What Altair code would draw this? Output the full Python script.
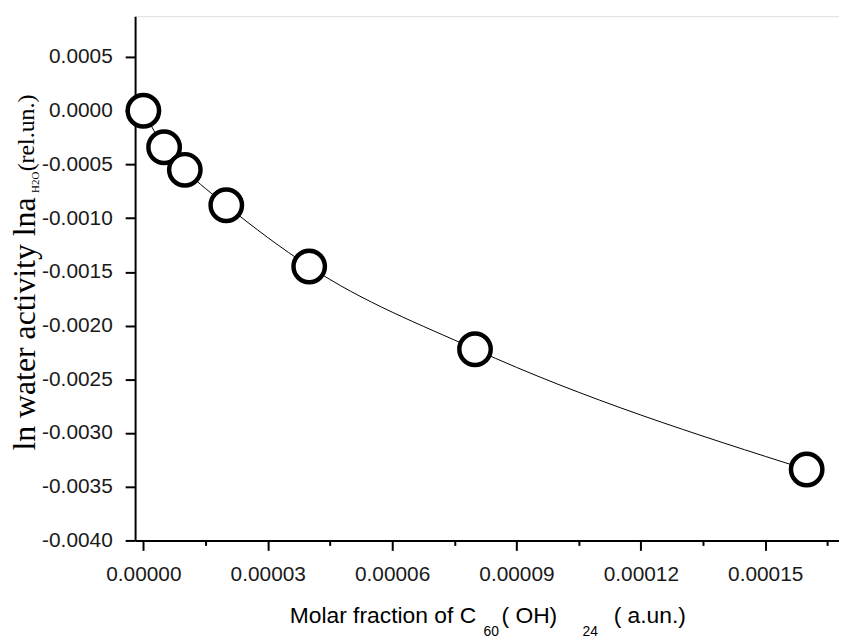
import altair as alt
import pandas as pd

# data
x_frac = [0.0, 0.000005, 0.00001, 0.00002, 0.00004, 0.00008, 0.00016]
ln_a = [0.0, -0.00034, -0.00055, -0.00088, -0.00145, -0.00222, -0.00334]

y_ticks = [round(-0.004 + 0.00025 * i, 5) for i in range(20)]
x_ticks = [round(0.000015 * i, 6) for i in range(12)]

df = pd.DataFrame({"x": x_frac, "y": ln_a})

XDOM = [-0.000002, 0.0001678]
YDOM = [-0.004, 0.00088]

xs = alt.Scale(domain=XDOM, nice=False, zero=False)
ys = alt.Scale(domain=YDOM, nice=False, zero=False)

y_major = "abs(datum.value/0.0005 - round(datum.value/0.0005)) < 0.01"
x_major = "abs(datum.value/0.00003 - round(datum.value/0.00003)) < 0.01"

yaxis = alt.Axis(
    values=y_ticks, title=None, grid=False,
    labelExpr="(" + y_major + ") ? ((datum.value < -1e-9 ? '-' : '') + format(abs(datum.value), '.4f')) : ''",
    tickSize={"condition": {"test": y_major, "value": 10}, "value": 5},
    tickWidth=2, domainWidth=2, domainColor="black", tickColor="black",
    labelFont="Liberation Sans", labelFontSize=21, labelColor="#1a1a1a",
    labelPadding=13,
)
xaxis = alt.Axis(
    values=x_ticks, title=None, grid=False,
    labelExpr="(" + x_major + ") ? format(abs(datum.value), '.5f') : ''",
    tickSize={"condition": {"test": x_major, "value": 10}, "value": 5},
    tickWidth=2, domainWidth=2, domainColor="black", tickColor="black",
    labelFont="Liberation Sans", labelFontSize=21, labelColor="#1a1a1a",
    labelPadding=13,
)

base = alt.Chart(df)
line = base.mark_line(color="black", strokeWidth=1, interpolate="monotone").encode(
    x=alt.X("x:Q", scale=xs, axis=xaxis),
    y=alt.Y("y:Q", scale=ys, axis=yaxis),
)
pts = base.mark_point(shape="circle", size=1000, fill="white", fillOpacity=1,
                      stroke="black", strokeWidth=4.5, opacity=1).encode(
    x=alt.X("x:Q", scale=xs),
    y=alt.Y("y:Q", scale=ys),
)

def txt(s, x, y, size, font, align="left", angle=0):
    return alt.Chart(pd.DataFrame({"t": [s]})).mark_text(
        align=align, baseline="alphabetic", fontSize=size, font=font,
        color="black", angle=angle,
    ).encode(text="t:N", x=alt.value(x), y=alt.value(y))

sans = "Liberation Sans"
serif = "Liberation Serif"
titles = [
    txt("Molar fraction of C", 155.7, 611, 23, sans),
    txt("60", 351, 624, 14, sans),
    txt("( OH)", 369, 611, 23, sans),
    txt("24", 450.7, 624, 14, sans),
    txt("( a.un.)", 482, 611, 23, sans),
    txt("ln water activity lna", -101, 310, 32, serif, align="center", angle=270),
    txt("H2O", -97, 178, 11, serif, align="left", angle=270),
    txt("(rel.un.)", -102, 79, 24, serif, align="right", angle=270),
]

chart = alt.layer(line, pts, *titles).properties(
    width=709, height=528,
    autosize=alt.AutoSizeParams(type="none"),
    padding={"left": 128, "top": 6, "right": 0, "bottom": 97},
).configure_view(stroke=None).configure(background="white")

chart.save("out.html", embed_options={"renderer": "svg", "actions": False})
